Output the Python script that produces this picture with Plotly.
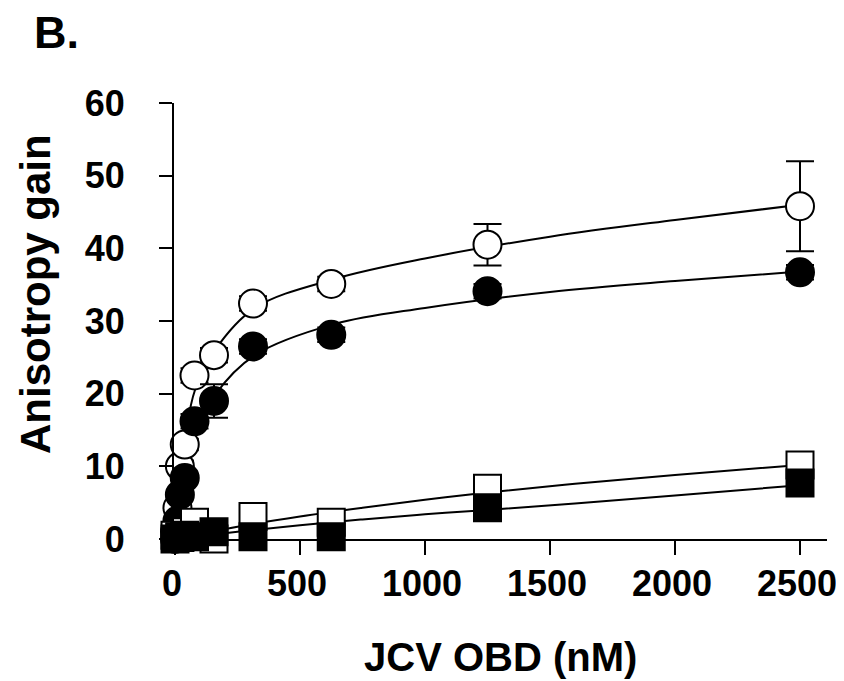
import plotly.graph_objects as go

# ---- data ----
conc = [0, 9.8, 19.5, 39, 78, 156, 312, 625, 1250, 2500]
open_circ = [1.0, 4.3, 10.0, 13.0, 22.5, 25.3, 32.4, 35.1, 40.5, 45.8]
open_circ_err = [0.5, 0.8, 0.8, 0.8, 1.0, 1.0, 1.0, 1.0, 2.85, 6.2]
filled_circ = [0.0, 2.5, 6.1, 8.4, 16.2, 19.0, 26.5, 28.1, 34.1, 36.7]
filled_circ_err = [0.5, 0.5, 0.5, 0.5, 1.0, 2.3, 1.0, 1.0, 1.0, 1.0]
open_sq = [0.5, -0.5, 0.3, 1.0, 2.3, 0.0, 3.1, 2.3, 7.0, 10.2]
filled_sq = [0.0, -0.8, 0.2, 0.5, 0.3, 1.0, 0.3, 0.3, 4.3, 7.7]

# fitted curves
fit_x_circ = [0, 10, 20, 40, 80, 160, 320, 640, 1000, 1500, 2000, 2500]
fit_open_circ = [0, 5.5, 9.5, 14, 20.5, 26, 31.8, 35.8, 38.6, 41.6, 43.9, 46.0]
fit_filled_circ = [0, 3.2, 5.8, 9.2, 14, 19.8, 25.3, 29.6, 31.8, 34.0, 35.5, 36.8]
fit_x_sq = [0, 250, 500, 750, 1000, 1250, 1600, 2000, 2500]
fit_open_sq = [0, 1.7, 3.1, 4.3, 5.4, 6.4, 7.6, 8.8, 10.2]
fit_filled_sq = [0, 1.0, 1.9, 2.7, 3.4, 4.0, 4.9, 6.0, 7.4]

x_ticks = [0, 500, 1000, 1500, 2000, 2500]
y_ticks = [0, 10, 20, 30, 40, 50, 60]

FONT = "Liberation Sans, Arial, sans-serif"
fig = go.Figure()

line_style = dict(color="black", width=2, shape="spline")
for fx, fy in [(fit_x_circ, fit_open_circ), (fit_x_circ, fit_filled_circ),
               (fit_x_sq, fit_open_sq), (fit_x_sq, fit_filled_sq)]:
    fig.add_trace(go.Scatter(x=fx, y=fy, mode="lines", line=line_style,
                             hoverinfo="skip", showlegend=False, cliponaxis=False))

err_style = dict(type="data", color="black", thickness=2, width=14)
fig.add_trace(go.Scatter(x=conc, y=open_circ, mode="markers",
                         error_y=dict(array=open_circ_err, **err_style),
                         marker=dict(symbol="circle", size=28, color="white",
                                     line=dict(color="black", width=2)),
                         showlegend=False, cliponaxis=False))
fig.add_trace(go.Scatter(x=conc, y=filled_circ, mode="markers",
                         error_y=dict(array=filled_circ_err, **err_style),
                         marker=dict(symbol="circle", size=28, color="black",
                                     line=dict(color="black", width=2)),
                         showlegend=False, cliponaxis=False))
fig.add_trace(go.Scatter(x=conc, y=open_sq, mode="markers",
                         marker=dict(symbol="square", size=27, color="white",
                                     line=dict(color="black", width=2)),
                         showlegend=False, cliponaxis=False))
fig.add_trace(go.Scatter(x=conc, y=filled_sq, mode="markers",
                         marker=dict(symbol="square", size=27, color="black",
                                     line=dict(color="black", width=2)),
                         showlegend=False, cliponaxis=False))

W, H = 844, 681
L, R, T, B = 166, 25, 95, 150
pw, ph = W - L - R, H - T - B

def px(xp):
    return (xp - L) / pw

def py(yp):
    return (H - B - yp) / ph

fig.update_layout(
    width=W, height=H,
    margin=dict(l=L, r=R, t=T, b=B, pad=0),
    paper_bgcolor="white", plot_bgcolor="white",
    font=dict(family=FONT, color="black"),
    xaxis=dict(range=[-4, 2608], tickvals=x_ticks, ticks="outside", ticklen=14,
               tickwidth=2, tickcolor="black", showline=True, linecolor="black",
               linewidth=2, showgrid=False, zeroline=False,
               tickfont=dict(size=36, family=FONT, weight="bold"),
               ticklabelstandoff=-2, ticklabelshift=-3),
    yaxis=dict(range=[0, 60], tickvals=y_ticks, ticks="outside", ticklen=13,
               tickwidth=2, tickcolor="black", showline=True, linecolor="black",
               linewidth=2, showgrid=False, zeroline=False,
               tickfont=dict(size=36, family=FONT, weight="bold"),
               ticklabelstandoff=27),
    annotations=[
        dict(text="<b>B.</b>", xref="paper", yref="paper", x=px(25), y=py(-2),
             xanchor="left", yanchor="top", showarrow=False, borderpad=0,
             font=dict(size=45, family=FONT)),
        dict(text="<b>Anisotropy gain</b>", xref="paper", yref="paper",
             x=px(27), y=py(286), xanchor="center", yanchor="middle",
             textangle=-90, showarrow=False, font=dict(size=42, family=FONT)),
        dict(text="<b>JCV OBD (nM)</b>", xref="paper", yref="paper",
             x=px(493), y=py(649), xanchor="center", yanchor="middle",
             showarrow=False, font=dict(size=40, family=FONT)),
    ],
)

fig.write_html("out.html")
